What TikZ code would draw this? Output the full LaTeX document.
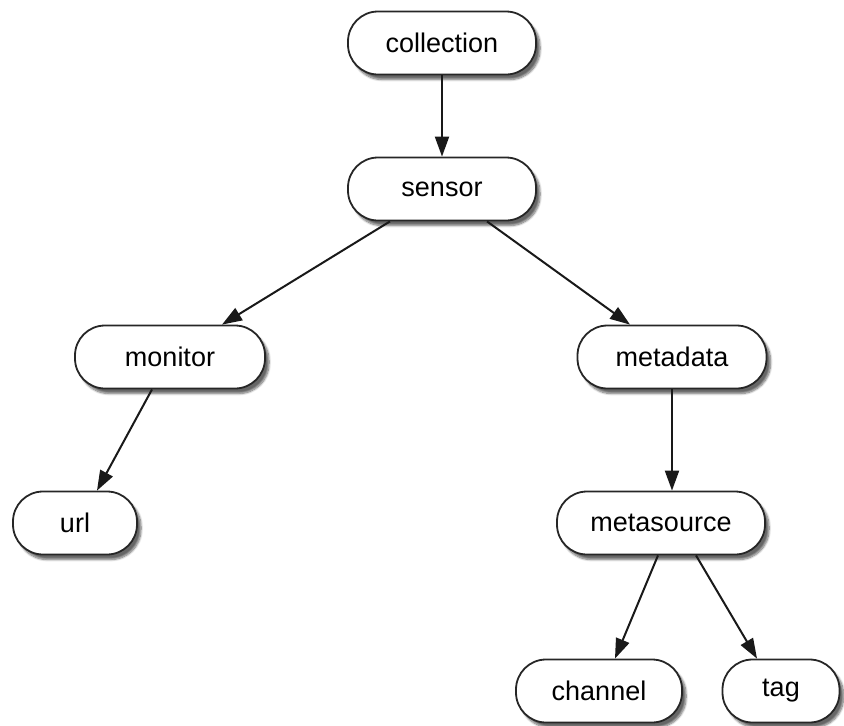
\documentclass[tikz,border=0pt]{standalone}
\usepackage{fontspec}
\setmainfont{Liberation Sans}
\usetikzlibrary{arrows.meta,shadows.blur}
\begin{document}
\begin{tikzpicture}[x=1pt,y=-1pt,
  box/.style={draw=black!85,line width=1.8pt,fill=white,rounded corners=30pt,
    minimum height=63pt,inner sep=0pt,font=\fontsize{27}{30}\selectfont,
    blur shadow={shadow xshift=4pt,shadow yshift=-5pt,shadow blur steps=8,shadow blur extra rounding=3pt,shadow opacity=60}},
  link/.style={line width=2pt,black!90,-{Triangle[length=20pt,width=14pt]}}]
\useasboundingbox (0,0) rectangle (844,726);
\node[box,minimum width=188pt] (collection) at (442,43) {collection};
\node[box,minimum width=188pt] (sensor) at (442,189) {sensor};
\node[box,minimum width=190pt] (monitor) at (170,357) {monitor};
\node[box,minimum width=189pt] (metadata) at (672,357) {metadata};
\node[box,minimum width=124pt] (url) at (75,523) {url};
\node[box,minimum width=208pt] (metasource) at (661,523) {metasource};
\node[box,minimum width=166pt] (channel) at (599,691) {channel};
\node[box,minimum width=117pt] (tag) at (781,691) {tag};
\draw[link] (collection.south) -- (sensor.north);
\draw[link] ([xshift=-52pt]sensor.south) -- ([xshift=52pt]monitor.north);
\draw[link] ([xshift=45pt]sensor.south) -- ([xshift=-42pt]metadata.north);
\draw[link] ([xshift=-18pt]monitor.south) -- ([xshift=22pt]url.north);
\draw[link] (metadata.south) -- ([xshift=11pt]metasource.north);
\draw[link] ([xshift=-3pt]metasource.south) -- ([xshift=16pt]channel.north);
\draw[link] ([xshift=35pt]metasource.south) -- ([xshift=-24pt]tag.north);
\end{tikzpicture}
\end{document}
